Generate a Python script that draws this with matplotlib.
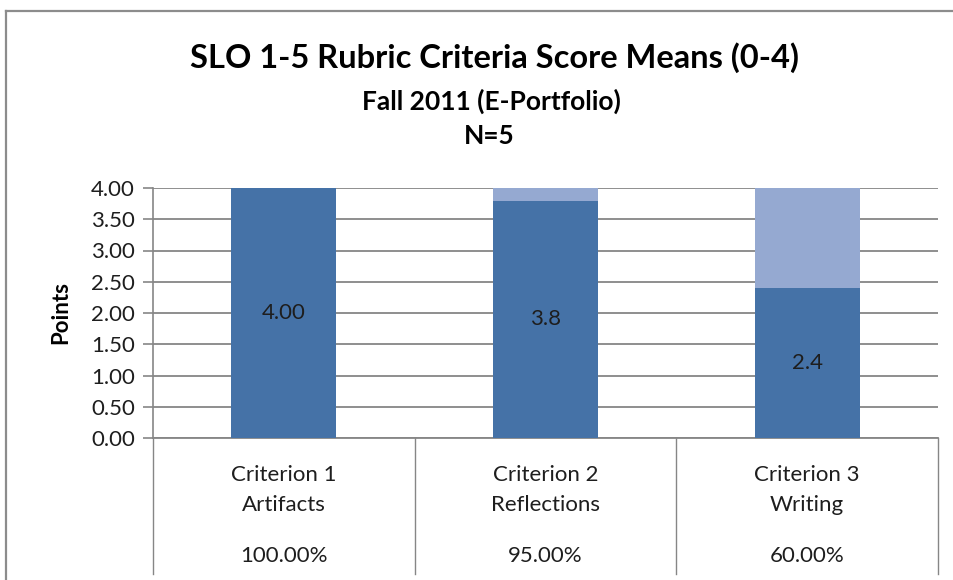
import matplotlib
matplotlib.use("Agg")
import matplotlib.pyplot as plt
from matplotlib.lines import Line2D

categories = ["Criterion 1\nArtifacts", "Criterion 2\nReflections", "Criterion 3\nWriting"]
percentages = ["100.00%", "95.00%", "60.00%"]
means = [4.00, 3.80, 2.40]
remainder = [0.00, 0.20, 1.60]
mean_labels = ["4.00", "3.8", "2.4"]
yticks = [0.0, 0.5, 1.0, 1.5, 2.0, 2.5, 3.0, 3.5, 4.0]

DARK = "#4572A7"
LIGHT = "#95A9D1"
GRID = "#868686"
TXT = "#1e1e1e"

plt.rcParams['font.family'] = ['Lato', 'DejaVu Sans']

W, H = 954, 580
fig = plt.figure(figsize=(W / 100, H / 100), dpi=100)

# outer chart frame (top and left visible)
fig.add_artist(Line2D([6 / W, 1.0], [1 - 11 / H, 1 - 11 / H], transform=fig.transFigure,
                      color="#8c8c8c", lw=1.6))
fig.add_artist(Line2D([6 / W, 6 / W], [1 - 11 / H, 0.0], transform=fig.transFigure,
                      color="#8c8c8c", lw=1.6))

left, right = 153 / W, 938 / W
bottom, top = 1 - 438 / H, 1 - 188 / H
ax = fig.add_axes([left, bottom, right - left, top - bottom])

x = list(range(len(categories)))
ax.bar(x, means, width=0.4, color=DARK, zorder=3)
ax.bar(x, remainder, bottom=means, width=0.4, color=LIGHT, zorder=3)

for xi, m, lab in zip(x, means, mean_labels):
    ax.text(xi, m / 2, lab, ha="center", va="center", fontsize=16, color=TXT, zorder=4)

ax.set_xlim(-0.5, len(categories) - 0.5)
ax.set_ylim(0, 4)
ax.set_yticks(yticks)
ax.set_yticklabels([f"{v:.2f}" for v in yticks], fontsize=16, color=TXT)
ax.yaxis.grid(True, color=GRID, lw=1.3, zorder=0)
ax.set_xticks([])
ax.tick_params(axis="y", length=7, width=1.2, color=GRID, pad=6)

for s in ["top", "right"]:
    ax.spines[s].set_visible(False)
ax.spines["left"].set_color(GRID)
ax.spines["left"].set_linewidth(1.2)
ax.spines["bottom"].set_color(GRID)
ax.spines["bottom"].set_linewidth(1.3)

ax.set_ylabel("Points", fontsize=16, fontweight="bold", labelpad=14)

# table below the axis
trans = ax.get_xaxis_transform()
tbl_bottom = -(574 - 438) / 250
for b in [i - 0.5 for i in range(len(categories) + 1)]:
    ax.plot([b, b], [0, tbl_bottom], transform=trans, color=GRID, lw=1.0, clip_on=False)
for xi, cat, pct in zip(x, categories, percentages):
    ax.text(xi, -(490 - 438) / 250, cat, transform=trans, ha="center", va="center",
            fontsize=16, color=TXT, linespacing=1.6)
    ax.text(xi, -(556 - 438) / 250, pct, transform=trans, ha="center", va="center",
            fontsize=16, color=TXT)

fig.text(494 / W, 1 - 58 / H, "SLO 1-5 Rubric Criteria Score Means (0-4)", ha="center",
         va="center", fontsize=23.5, fontweight="bold")
fig.text(491 / W, 1 - 101 / H, "Fall 2011 (E-Portfolio)", ha="center", va="center",
         fontsize=19, fontweight="bold")
fig.text(489 / W, 1 - 136 / H, "N=5", ha="center", va="center", fontsize=19, fontweight="bold")

fig.savefig("out.png", dpi=100)
